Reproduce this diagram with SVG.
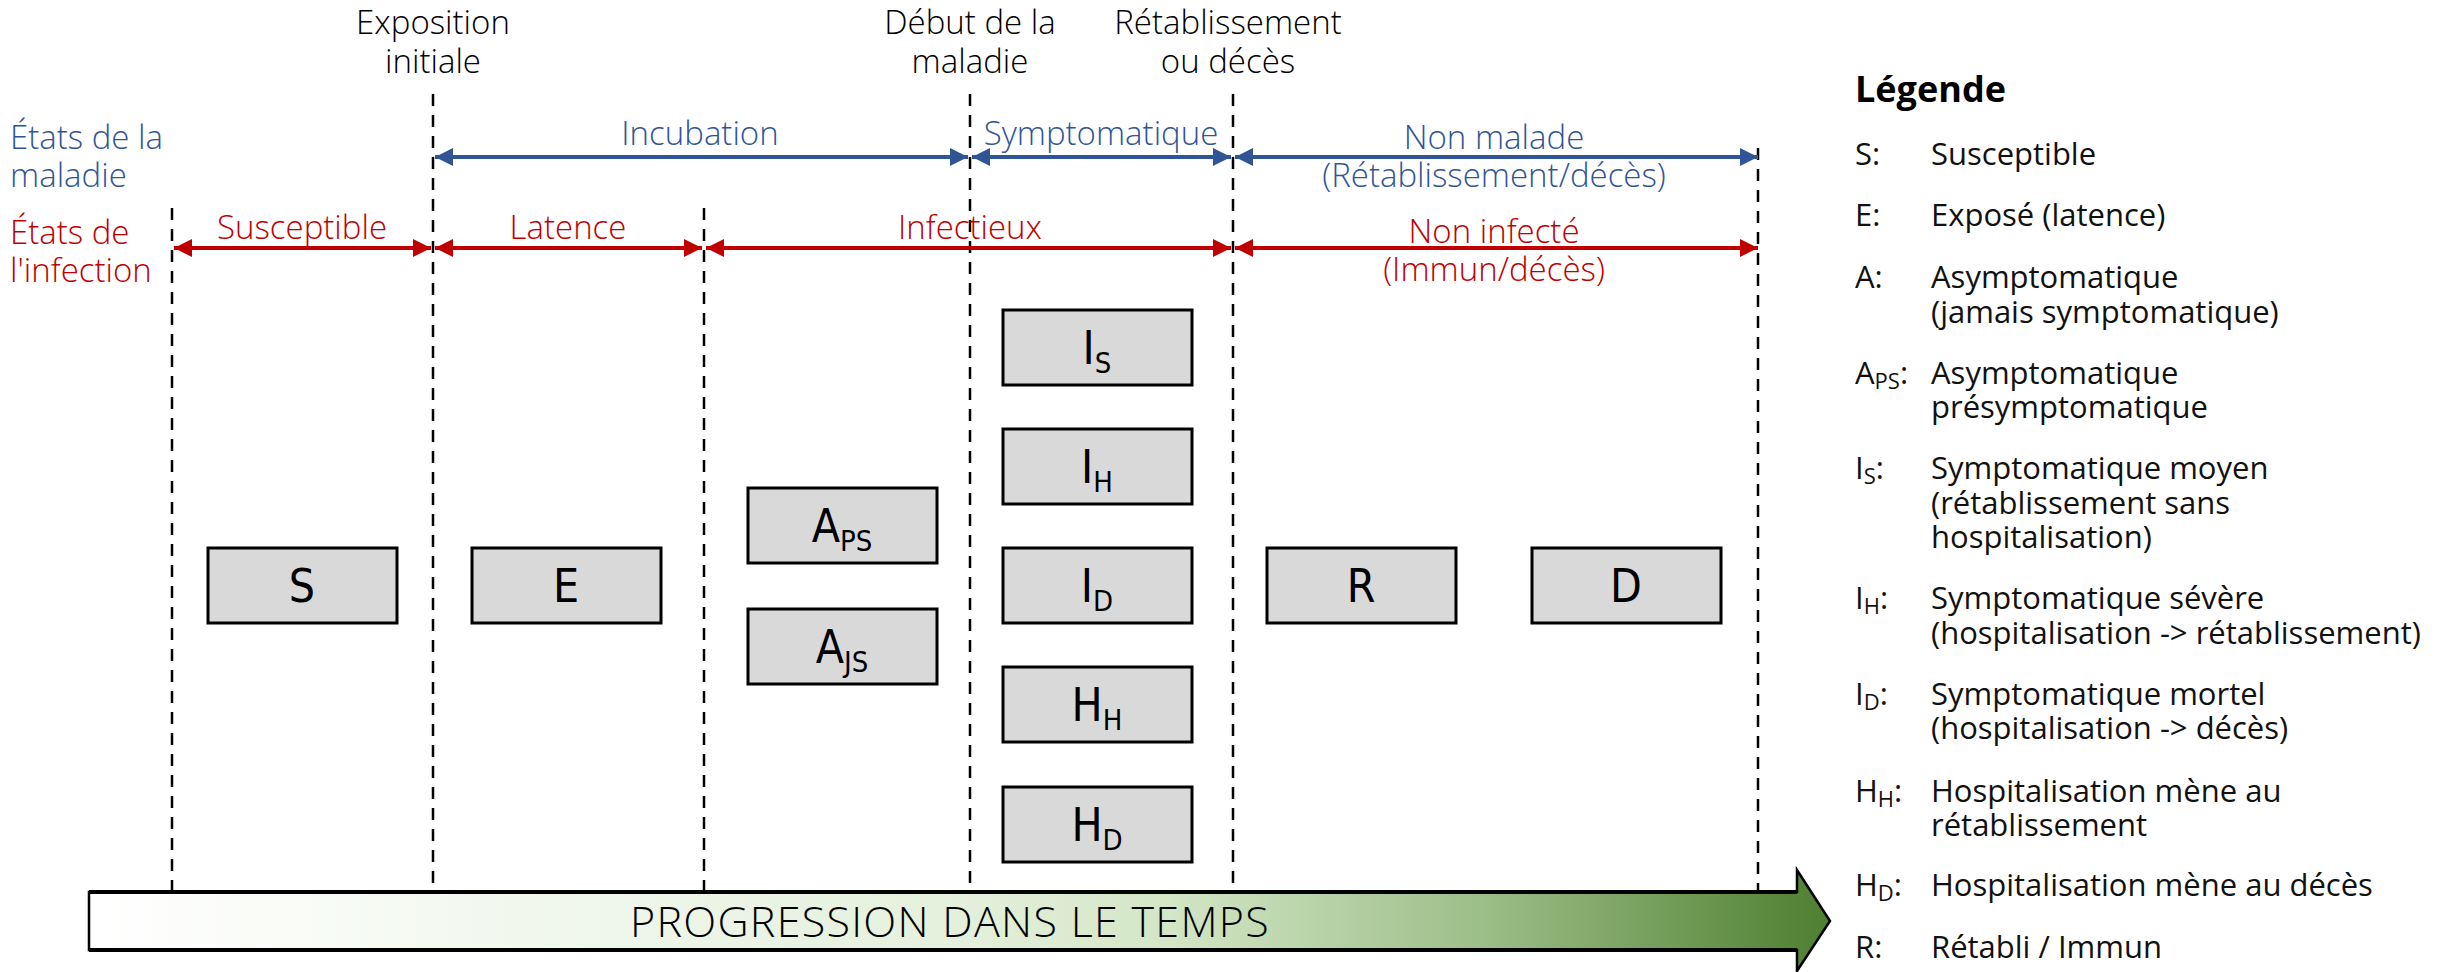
<svg xmlns="http://www.w3.org/2000/svg" width="2453" height="972" viewBox="0 0 2453 972">
<style>
.t{font-family:"Open Sans","Lato",sans-serif;font-size:33px;font-weight:300}
.blk{fill:#000}
.blue{fill:#2F5597}
.red{fill:#C00000}
.dash{stroke:#000;stroke-width:2.5;stroke-dasharray:12 9;fill:none}
.ab{stroke:#2F5597;stroke-width:4;fill:none}
.ar{stroke:#C00000;stroke-width:4;fill:none}
.box{fill:#D9D9D9;stroke:#000;stroke-width:3}
.bt{font-family:"DejaVu Sans Condensed","DejaVu Sans",sans-serif;font-size:46px;font-weight:300;fill:#000;text-anchor:middle}
.sub{font-size:29px}
.lg{font-family:"Open Sans","Lato",sans-serif;font-size:31px;fill:#111}
.ls{font-size:22px}
</style>
<defs>
<marker id="mb" viewBox="0 0 10 10" refX="10" refY="5" markerWidth="4.5" markerHeight="4.5" orient="auto-start-reverse" markerUnits="strokeWidth"><path d="M0,0 L10,5 L0,10 Z" fill="#2F5597"/></marker>
<marker id="mr" viewBox="0 0 10 10" refX="10" refY="5" markerWidth="4.5" markerHeight="4.5" orient="auto-start-reverse" markerUnits="strokeWidth"><path d="M0,0 L10,5 L0,10 Z" fill="#C00000"/></marker>
<linearGradient id="g" x1="0" y1="0" x2="1" y2="0">
<stop offset="0" stop-color="#FFFFFF"/>
<stop offset="0.5" stop-color="#E4F0DC"/>
<stop offset="0.62" stop-color="#D3E6C6"/>
<stop offset="0.8" stop-color="#9CBE88"/>
<stop offset="1" stop-color="#4E7F30"/>
</linearGradient>
</defs>

<g id="dividers">
<line class="dash" x1="172" y1="208" x2="172" y2="892"/>
<line class="dash" x1="433" y1="94" x2="433" y2="892"/>
<line class="dash" x1="704" y1="208" x2="704" y2="892"/>
<line class="dash" x1="970" y1="94" x2="970" y2="892"/>
<line class="dash" x1="1233" y1="94" x2="1233" y2="892"/>
<line class="dash" x1="1758" y1="148" x2="1758" y2="892"/>
</g>

<g id="top-labels" class="t blk" text-anchor="middle">
<text x="433" y="34">Exposition<tspan x="433" dy="39">initiale</tspan></text>
<text x="970" y="34">Début de la<tspan x="970" dy="39">maladie</tspan></text>
<text x="1228" y="34">Rétablissement<tspan x="1228" dy="39">ou décès</tspan></text>
</g>

<g id="row-labels" class="t">
<text class="blue" x="10" y="149">États de la<tspan x="10" dy="38">maladie</tspan></text>
<text class="red" x="10" y="244">États de<tspan x="10" dy="38">l'infection</tspan></text>
</g>

<g id="connectors">
<line class="ab" x1="435" y1="157" x2="968" y2="157" marker-start="url(#mb)" marker-end="url(#mb)"/>
<line class="ab" x1="972" y1="157" x2="1231" y2="157" marker-start="url(#mb)" marker-end="url(#mb)"/>
<line class="ab" x1="1235" y1="157" x2="1758" y2="157" marker-start="url(#mb)" marker-end="url(#mb)"/>
<line class="ar" x1="174" y1="248" x2="431" y2="248" marker-start="url(#mr)" marker-end="url(#mr)"/>
<line class="ar" x1="435" y1="248" x2="702" y2="248" marker-start="url(#mr)" marker-end="url(#mr)"/>
<line class="ar" x1="706" y1="248" x2="1231" y2="248" marker-start="url(#mr)" marker-end="url(#mr)"/>
<line class="ar" x1="1235" y1="248" x2="1758" y2="248" marker-start="url(#mr)" marker-end="url(#mr)"/>
</g>

<g id="period-labels" class="t" text-anchor="middle">
<text class="blue" x="700" y="145">Incubation</text>
<text class="blue" x="1101" y="145">Symptomatique</text>
<text class="blue" x="1494" y="149">Non malade<tspan x="1494" dy="38">(Rétablissement/décès)</tspan></text>
<text class="red" x="302" y="239">Susceptible</text>
<text class="red" x="568" y="239">Latence</text>
<text class="red" x="970" y="239">Infectieux</text>
<text class="red" x="1494" y="243">Non infecté<tspan x="1494" dy="38">(Immun/décès)</tspan></text>
</g>

<g id="node-S"><rect class="box" x="208" y="548" width="189" height="75"/><text class="bt" x="302" y="602">S</text></g>
<g id="node-E"><rect class="box" x="472" y="548" width="189" height="75"/><text class="bt" x="566" y="602">E</text></g>
<g id="node-APS"><rect class="box" x="748" y="488" width="189" height="75"/><text class="bt" x="842" y="542">A<tspan class="sub" dy="9">PS</tspan></text></g>
<g id="node-AJS"><rect class="box" x="748" y="609" width="189" height="75"/><text class="bt" x="842" y="663">A<tspan class="sub" dy="9">JS</tspan></text></g>
<g id="node-IS"><rect class="box" x="1003" y="310" width="189" height="75"/><text class="bt" x="1097" y="364">I<tspan class="sub" dy="9">S</tspan></text></g>
<g id="node-IH"><rect class="box" x="1003" y="429" width="189" height="75"/><text class="bt" x="1097" y="483">I<tspan class="sub" dy="9">H</tspan></text></g>
<g id="node-ID"><rect class="box" x="1003" y="548" width="189" height="75"/><text class="bt" x="1097" y="602">I<tspan class="sub" dy="9">D</tspan></text></g>
<g id="node-HH"><rect class="box" x="1003" y="667" width="189" height="75"/><text class="bt" x="1097" y="721">H<tspan class="sub" dy="9">H</tspan></text></g>
<g id="node-HD"><rect class="box" x="1003" y="787" width="189" height="75"/><text class="bt" x="1097" y="841">H<tspan class="sub" dy="9">D</tspan></text></g>
<g id="node-R"><rect class="box" x="1267" y="548" width="189" height="75"/><text class="bt" x="1361" y="602">R</text></g>
<g id="node-D"><rect class="box" x="1532" y="548" width="189" height="75"/><text class="bt" x="1626" y="602">D</text></g>

<g id="time-arrow">
<path d="M89,892 H1797 V870 L1830,921 L1797,971 V950 H89 Z" fill="url(#g)" stroke="#000" stroke-width="2.5"/>
<line x1="89" y1="892" x2="1797" y2="892" stroke="#000" stroke-width="4"/>
<line x1="89" y1="950" x2="1797" y2="950" stroke="#000" stroke-width="4"/>
<text x="950" y="937" text-anchor="middle" style="font-family:'Open Sans','Lato',sans-serif;font-size:43px;font-weight:300;letter-spacing:1.3px" fill="#000">PROGRESSION DANS LE TEMPS</text>
</g>

<g id="legend">
<text x="1855" y="102" style="font-family:'Open Sans','Lato',sans-serif;font-size:36px;font-weight:bold" fill="#000">Légende</text>
<g class="lg">
<text x="1855" y="165">S:</text><text x="1931" y="165">Susceptible</text>
<text x="1855" y="226">E:</text><text x="1931" y="226">Exposé (latence)</text>
<text x="1855" y="288">A:</text><text x="1931" y="288">Asymptomatique<tspan x="1931" dy="35">(jamais symptomatique)</tspan></text>
<text x="1855" y="384">A<tspan class="ls" dy="5">PS</tspan><tspan dy="-5">:</tspan></text><text x="1931" y="384">Asymptomatique<tspan x="1931" dy="34">présymptomatique</tspan></text>
<text x="1855" y="479">I<tspan class="ls" dy="5">S</tspan><tspan dy="-5">:</tspan></text><text x="1931" y="479">Symptomatique moyen<tspan x="1931" dy="35">(rétablissement sans</tspan><tspan x="1931" dy="34">hospitalisation)</tspan></text>
<text x="1855" y="609">I<tspan class="ls" dy="5">H</tspan><tspan dy="-5">:</tspan></text><text x="1931" y="609">Symptomatique sévère<tspan x="1931" dy="35">(hospitalisation -&gt; rétablissement)</tspan></text>
<text x="1855" y="705">I<tspan class="ls" dy="5">D</tspan><tspan dy="-5">:</tspan></text><text x="1931" y="705">Symptomatique mortel<tspan x="1931" dy="34">(hospitalisation -&gt; décès)</tspan></text>
<text x="1855" y="802">H<tspan class="ls" dy="5">H</tspan><tspan dy="-5">:</tspan></text><text x="1931" y="802">Hospitalisation mène au<tspan x="1931" dy="34">rétablissement</tspan></text>
<text x="1855" y="896">H<tspan class="ls" dy="5">D</tspan><tspan dy="-5">:</tspan></text><text x="1931" y="896">Hospitalisation mène au décès</text>
<text x="1855" y="958">R:</text><text x="1931" y="958">Rétabli / Immun</text>
</g>
</g>
</svg>
